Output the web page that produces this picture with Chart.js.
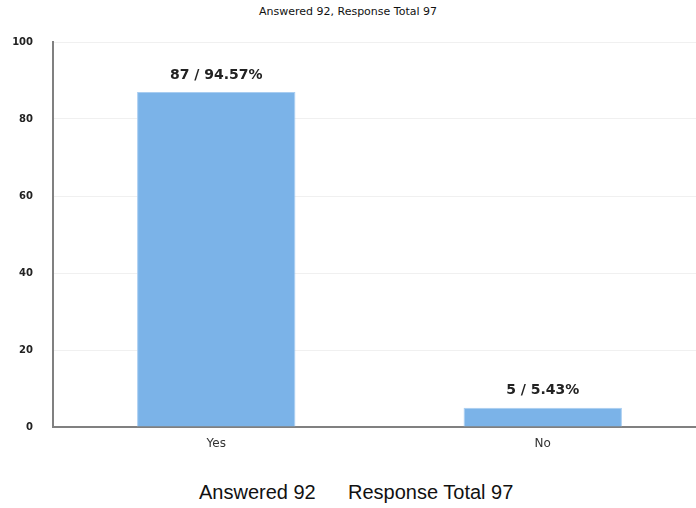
<!DOCTYPE html>
<html>
<head>
<meta charset="utf-8">
<script src="https://cdn.jsdelivr.net/npm/chart.js@4"></script>
<style>
  body { margin: 0; background: #fff; overflow: hidden; width: 696px; height: 508px; position: relative; }
  #wrap { position: absolute; left: 0; top: 0; }
  #title { position: absolute; left: 0; width: 696px; top: 5px; text-align: center;
    font: 11px "DejaVu Sans", sans-serif; color: #111; }
  .foot { position: absolute; top: 481px; white-space: pre;
    font: 20px "Liberation Sans", Arial, sans-serif; color: #111; }
</style>
</head>
<body>
<div id="title">Answered 92, Response Total 97</div>
<div id="wrap"><canvas id="surveyChart" width="706" height="460"></canvas></div>
<div class="foot" style="left:199px">Answered 92</div>
<div class="foot" style="left:348px">Response Total 97</div>
<script>
    const answers = ["Yes", "No"];
    const counts = [87, 5];
    const percents = ["94.57%", "5.43%"];
    const yTicks = [0, 20, 40, 60, 80, 100];

    let ctx = document.getElementById("surveyChart").getContext("2d");

    // labels on top of the bars, "count / percent"
    const barLabels = {
      id: "barLabels",
      afterDatasetsDraw(chart) {
        const c = chart.ctx;
        const meta = chart.getDatasetMeta(0);
        c.save();
        c.font = "bold 14px 'DejaVu Sans', sans-serif";
        c.fillStyle = "#222";
        c.textAlign = "center";
        c.textBaseline = "bottom";
        meta.data.forEach((bar, i) => {
          c.fillText(counts[i] + " / " + percents[i], bar.x, bar.y - 10);
        });
        c.restore();
      },
    };

    let chart = new Chart(ctx, {
      type: "bar",
      data: {
        labels: answers,
        datasets: [
          {
            data: counts,
            backgroundColor: "#7bb3e8",
            borderColor: "#a8cdf1",
            borderWidth: 1,
            barPercentage: 0.485,
            categoryPercentage: 1,
          },
        ],
      },
      options: {
        responsive: false,
        animation: false,
        layout: { padding: { top: 42, left: 0, right: 0, bottom: 0 } },
        plugins: { legend: { display: false }, tooltip: { enabled: false } },
        scales: {
          x: {
            grid: { display: false, drawTicks: false },
            border: { color: "#808080", width: 2 },
            ticks: { color: "#333", padding: 10, font: { family: "DejaVu Sans", size: 12 } },
            afterFit: (s) => { s.height = 33; },
          },
          y: {
            min: 0,
            max: 100,
            afterBuildTicks: (s) => { s.ticks = yTicks.map((v) => ({ value: v })); },
            grid: { color: "#f0f0f0", drawTicks: false },
            border: { color: "#808080", width: 2 },
            ticks: { color: "#222", padding: 20, font: { family: "DejaVu Sans", size: 10, weight: "bold" } },
            afterFit: (s) => { s.width = 53; },
          },
        },
      },
      plugins: [barLabels],
    });
</script>
</body>
</html>
